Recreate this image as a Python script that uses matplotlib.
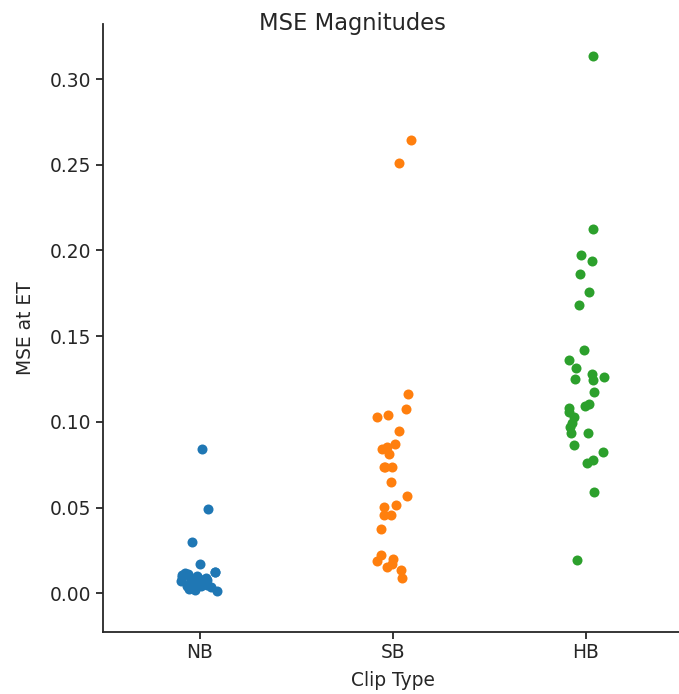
import numpy as np
import matplotlib
matplotlib.use("Agg")
import matplotlib.pyplot as plt
from matplotlib.ticker import FormatStrFormatter

categories = ["NB", "SB", "HB"]

nb_values = [0.0843, 0.0493, 0.0298, 0.0168,
             0.0125, 0.0122, 0.0118, 0.0110, 0.0105, 0.0100, 0.0095, 0.0090,
             0.0088, 0.0082, 0.0078, 0.0075, 0.0070, 0.0066, 0.0062, 0.0058,
             0.0055, 0.0050, 0.0046, 0.0042, 0.0040, 0.0035, 0.0030, 0.0025,
             0.0018, 0.0012]
sb_values = [0.2646, 0.2512, 0.1164, 0.1076, 0.1041, 0.1029, 0.0948, 0.0872,
             0.0854, 0.0843, 0.0814, 0.0738, 0.0738, 0.0738, 0.0650, 0.0568,
             0.0516, 0.0504, 0.0458, 0.0458, 0.0376, 0.0224, 0.0201, 0.0189,
             0.0171, 0.0154, 0.0136, 0.0090]
hb_values = [0.3137, 0.2127, 0.1975, 0.1940, 0.1864, 0.1759, 0.1683, 0.1421,
             0.1362, 0.1315, 0.1263, 0.1251, 0.1245, 0.1280, 0.1175, 0.1094,
             0.1105, 0.1082, 0.1058, 0.1029, 0.0994, 0.0971, 0.0936, 0.0936,
             0.0866, 0.0825, 0.0778, 0.0761, 0.0592, 0.0195]

series = [nb_values, sb_values, hb_values]
colors = ["#1f77b4", "#ff7f0e", "#2ca02c"]
y_ticks = [0.00, 0.05, 0.10, 0.15, 0.20, 0.25, 0.30]

text_color = "#262626"
fs = 13.4

fig = plt.figure(figsize=(6.79, 6.94), dpi=100)
ax = fig.add_axes([0.1521, 0.0898, 0.8527, 0.8756])

rng = np.random.RandomState(3)
for i, (vals, c) in enumerate(zip(series, colors)):
    vals = np.asarray(vals)
    jit = rng.uniform(-0.1, 0.1, size=len(vals))
    ax.scatter(i + jit, vals, s=52, color=c, linewidths=0, zorder=3)

ax.set_xlim(-0.5, 2.5)
ax.set_ylim(-0.0224, 0.3321)
ax.set_xticks(range(len(categories)))
ax.set_xticklabels(categories)
ax.set_yticks(y_ticks)
ax.yaxis.set_major_formatter(FormatStrFormatter("%.2f"))

for side in ["top", "right"]:
    ax.spines[side].set_visible(False)
for side in ["left", "bottom"]:
    ax.spines[side].set_linewidth(1.3)
    ax.spines[side].set_color(text_color)

ax.tick_params(axis="both", labelsize=fs, colors=text_color, length=5, width=1.3)
ax.set_xlabel("Clip Type", fontsize=fs, color=text_color, labelpad=6)
ax.set_ylabel("MSE at ET", fontsize=fs, color=text_color, labelpad=11)

fig.text(352 / 679, 1 - 30 / 694, "MSE Magnitudes", fontsize=16.3,
         color=text_color, ha="center", va="baseline")

fig.savefig("out.png", dpi=100)
